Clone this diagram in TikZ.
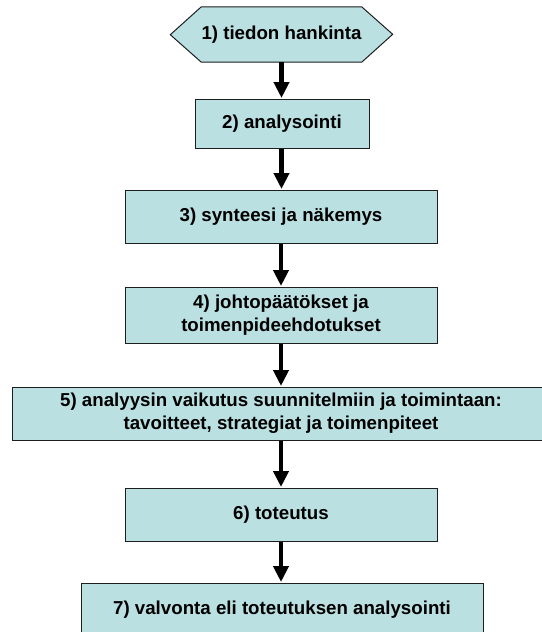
\documentclass[tikz,border=0pt]{standalone}
\usepackage{fontspec}
\setmainfont{Liberation Sans}
\usetikzlibrary{arrows.meta,backgrounds}
\definecolor{boxfill}{RGB}{186,224,226}
\definecolor{boxline}{RGB}{30,30,30}
\tikzset{
  steptext/.style={font=\fontsize{18.7}{23}\selectfont\bfseries},
  stepbox/.style={steptext, draw=boxline, line width=1pt, fill=boxfill,
    rectangle, inner sep=0pt, align=center},
  flow/.style={draw=black, line width=4.5pt,
    -{Triangle[width=15pt,length=16pt]}, shorten >=0.5pt},
}
\begin{document}
\begin{tikzpicture}[x=1pt,y=-1pt]
  \useasboundingbox (0,0) rectangle (541,632);

  % step 1: hexagonal start box (text node, outline drawn behind it)
  \node[steptext, inner sep=0pt, minimum width=157pt, minimum height=55pt] (n1) at (281.5,34.5) {1) tiedon hankinta};
  \begin{scope}[on background layer]
    \draw[boxline, line width=1pt, fill=boxfill]
      (n1.north west) -- (n1.north east) -- ++(31,27.5) -- (n1.south east)
      -- (n1.south west) -- ++(-31,-27.5) -- cycle;
  \end{scope}

  \node[stepbox, minimum width=174pt, minimum height=49pt] (n2) at (282,123.5) {2) analysointi};
  \node[stepbox, minimum width=312pt, minimum height=53pt] (n3) at (281,216.5) {3) synteesi ja näkemys};
  \node[stepbox, minimum width=312pt, minimum height=56pt] (n4) at (281,315) {4) johtopäätökset ja\\toimenpideehdotukset};
  \node[stepbox, minimum width=538pt, minimum height=53pt] (n5) at (281,413.5) {5) analyysin vaikutus suunnitelmiin ja toimintaan:\\tavoitteet, strategiat ja toimenpiteet};
  \node[stepbox, minimum width=312pt, minimum height=53pt] (n6) at (281,514.5) {6) toteutus};
  \node[stepbox, minimum width=402pt, minimum height=54pt] (n7) at (282,610) {7) valvonta eli toteutuksen analysointi};

  \draw[flow] (n1.south) -- (n1.south |- n2.north);
  \draw[flow] (n1.south |- n2.south) -- (n1.south |- n3.north);
  \draw[flow] (n3.south) -- (n4.north);
  \draw[flow] (n4.south) -- (n5.north);
  \draw[flow] (n5.south) -- (n6.north);
  \draw[flow] (n6.south) -- (n6.south |- n7.north);
\end{tikzpicture}
\end{document}
